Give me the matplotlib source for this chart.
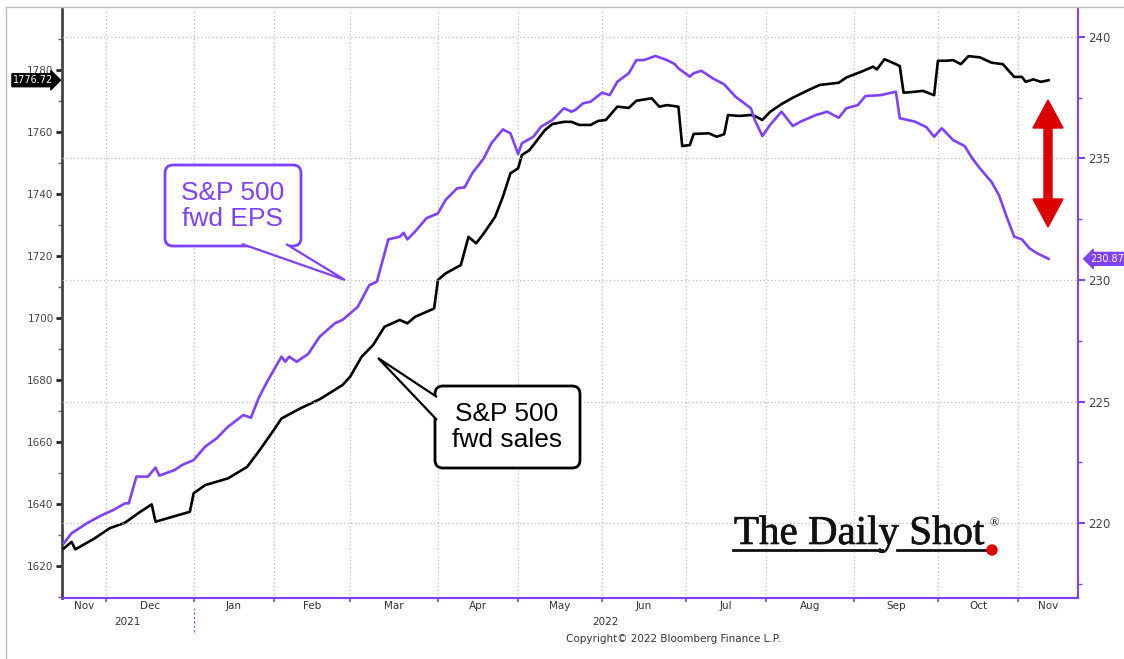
import numpy as np
import matplotlib.pyplot as plt
from matplotlib.patches import FancyBboxPatch, Polygon, Circle
from matplotlib.lines import Line2D
from matplotlib.ticker import MultipleLocator
import matplotlib.transforms as mtransforms
import matplotlib.patheffects as pe

# Data - x axis is trading days
start = "2021-11-16"

sales_dates = ["2021-11-16", "2021-11-18", "2021-11-19", "2021-11-26", "2021-12-02", "2021-12-08",
               "2021-12-14", "2021-12-17", "2021-12-20", "2021-12-27", "2021-12-31", "2022-01-03",
               "2022-01-06", "2022-01-14", "2022-01-21", "2022-01-26", "2022-02-01", "2022-02-03",
               "2022-02-10", "2022-02-17", "2022-02-25", "2022-03-01", "2022-03-04", "2022-03-09",
               "2022-03-14", "2022-03-18", "2022-03-22", "2022-03-24", "2022-03-29", "2022-03-31",
               "2022-04-01", "2022-04-05", "2022-04-11", "2022-04-13", "2022-04-15", "2022-04-19",
               "2022-04-22", "2022-04-26", "2022-04-28", "2022-05-02", "2022-05-03", "2022-05-05",
               "2022-05-09", "2022-05-11", "2022-05-13", "2022-05-18", "2022-05-20", "2022-05-24",
               "2022-05-27", "2022-05-31", "2022-06-02", "2022-06-07", "2022-06-10", "2022-06-14",
               "2022-06-20", "2022-06-22", "2022-06-24", "2022-06-29", "2022-06-30", "2022-07-04",
               "2022-07-05", "2022-07-11", "2022-07-13", "2022-07-15", "2022-07-18", "2022-07-21",
               "2022-07-26", "2022-07-27", "2022-07-29", "2022-08-02", "2022-08-05", "2022-08-10",
               "2022-08-16", "2022-08-19", "2022-08-26", "2022-08-30", "2022-09-05", "2022-09-08",
               "2022-09-09", "2022-09-13", "2022-09-16", "2022-09-19", "2022-09-20", "2022-09-23",
               "2022-09-27", "2022-09-30", "2022-10-03", "2022-10-05", "2022-10-07", "2022-10-11",
               "2022-10-13", "2022-10-18", "2022-10-21", "2022-10-26", "2022-10-31", "2022-11-02",
               "2022-11-03", "2022-11-07", "2022-11-09", "2022-11-11"]
sales_values = [1625.7, 1627.8, 1625.4, 1628.9, 1632.2, 1634.0,
                1637.5, 1639.9, 1634.3, 1636.1, 1637.5, 1643.5,
                1646.1, 1648.3, 1652.0, 1656.9, 1663.9, 1667.6,
                1670.9, 1673.8, 1678.4, 1681.1, 1687.5, 1691.3,
                1697.2, 1699.4, 1698.3, 1700.4, 1702.0, 1703.1,
                1712.3, 1714.4, 1717.1, 1726.2, 1724.1, 1727.3,
                1732.7, 1739.1, 1746.7, 1748.3, 1752.6, 1754.2,
                1757.4, 1760.6, 1762.6, 1763.3, 1763.3, 1762.3,
                1762.3, 1763.6, 1763.9, 1768.2, 1767.8, 1770.1,
                1770.9, 1768.2, 1768.7, 1768.2, 1755.5, 1755.8,
                1759.4, 1759.6, 1758.5, 1759.3, 1765.5, 1765.2,
                1765.5, 1765.2, 1763.9, 1766.5, 1769.0, 1771.1,
                1773.5, 1775.2, 1775.9, 1777.6, 1779.5, 1781.1,
                1780.2, 1783.5, 1781.9, 1781.3, 1772.7, 1773.0,
                1773.3, 1771.9, 1783.0, 1783.0, 1783.2, 1781.9,
                1784.5, 1784.1, 1782.4, 1781.9, 1777.8, 1777.8,
                1776.2, 1777.0, 1776.2, 1776.72]

eps_dates = ["2021-11-16", "2021-11-18", "2021-11-24", "2021-11-30", "2021-12-03", "2021-12-08",
             "2021-12-09", "2021-12-13", "2021-12-16", "2021-12-20", "2021-12-21", "2021-12-27",
             "2021-12-29", "2022-01-03", "2022-01-06", "2022-01-11", "2022-01-14", "2022-01-20",
             "2022-01-24", "2022-01-26", "2022-01-28", "2022-02-03", "2022-02-04", "2022-02-07",
             "2022-02-09", "2022-02-14", "2022-02-17", "2022-02-23", "2022-02-25", "2022-03-03",
             "2022-03-08", "2022-03-10", "2022-03-15", "2022-03-18", "2022-03-21", "2022-03-22",
             "2022-03-24", "2022-03-29", "2022-04-01", "2022-04-05", "2022-04-08", "2022-04-12",
             "2022-04-14", "2022-04-19", "2022-04-21", "2022-04-26", "2022-04-28", "2022-05-02",
             "2022-05-03", "2022-05-06", "2022-05-10", "2022-05-13", "2022-05-18", "2022-05-20",
             "2022-05-23", "2022-05-25", "2022-05-27", "2022-06-01", "2022-06-03", "2022-06-07",
             "2022-06-10", "2022-06-14", "2022-06-16", "2022-06-21", "2022-06-24", "2022-06-28",
             "2022-06-29", "2022-07-04", "2022-07-05", "2022-07-07", "2022-07-08", "2022-07-12",
             "2022-07-15", "2022-07-20", "2022-07-26", "2022-07-27", "2022-07-29", "2022-08-02",
             "2022-08-05", "2022-08-10", "2022-08-12", "2022-08-18", "2022-08-23", "2022-08-26",
             "2022-08-30", "2022-09-02", "2022-09-06", "2022-09-12", "2022-09-16", "2022-09-19",
             "2022-09-23", "2022-09-28", "2022-09-30", "2022-10-04", "2022-10-07", "2022-10-12",
             "2022-10-14", "2022-10-18", "2022-10-21", "2022-10-25", "2022-10-27", "2022-10-31",
             "2022-11-02", "2022-11-04", "2022-11-08", "2022-11-11"]
eps_values = [219.18, 219.59, 220.00, 220.34, 220.55, 220.82,
              220.82, 221.92, 221.92, 222.29, 221.96, 222.19,
              222.40, 222.60, 223.15, 223.49, 223.97, 224.45,
              224.34, 225.14, 225.75, 226.85, 226.64, 226.85,
              226.64, 226.96, 227.67, 228.22, 228.36, 228.90,
              229.79, 229.93, 231.67, 231.78, 231.94, 231.67,
              231.99, 232.54, 232.74, 233.29, 233.77, 233.81,
              234.39, 235.00, 235.62, 236.19, 236.03, 235.18,
              235.62, 235.89, 236.30, 236.58, 237.06, 236.92,
              236.99, 237.26, 237.33, 237.70, 237.60, 238.15,
              238.50, 239.04, 239.04, 239.21, 239.04, 238.88,
              238.70, 238.36, 238.50, 238.60, 238.50, 238.29,
              238.04, 237.53, 237.06, 236.58, 235.92, 236.37,
              236.92, 236.33, 236.51, 236.78, 236.92, 236.67,
              237.06, 237.19, 237.56, 237.60, 237.74, 236.65,
              236.51, 236.28, 235.89, 236.24, 235.75, 235.51,
              235.00, 234.59, 234.04, 233.49, 232.60, 231.78,
              231.67, 231.30, 231.10, 230.87]

month_starts = ["2021-12-01", "2022-01-01", "2022-02-01", "2022-03-01", "2022-04-01", "2022-05-01",
                "2022-06-01", "2022-07-01", "2022-08-01", "2022-09-01", "2022-10-01", "2022-11-01"]
month_names = ["Nov", "Dec", "Jan", "Feb", "Mar", "Apr", "May", "Jun", "Jul", "Aug", "Sep", "Oct", "Nov"]

purple = "#8040ff"
W, H = 1124, 659

def bd(dates):
    return np.busday_count(start, np.array(dates, dtype="datetime64[D]"), weekmask="1111100")

def px(x, y):
    # reference-image pixel -> inches from bottom-left
    return (x / 100, (H - y) / 100)

sales_x = bd(sales_dates)
eps_x = bd(eps_dates)
month_x = bd(month_starts)

fig = plt.figure(figsize=(W / 100, H / 100), dpi=100)
inch = fig.dpi_scale_trans
ax = fig.add_axes([62 / W, 1 - 598 / H, (1078 - 62) / W, (598 - 9) / H])
ax2 = ax.twinx()

xmin, xmax = -0.5, 265.7
ax.set_xlim(xmin, xmax)
ax.set_ylim(1609.7, 1799.7)
ax2.set_ylim(216.93, 241.14)

# grid
ax.set_xticks(month_x)
ax.set_xticklabels([])
ax.grid(axis="x", color="#bbbbbb", linestyle=(0, (1, 2)), linewidth=0.9)
ax2.set_yticks(np.arange(220, 241, 5))
ax2.yaxis.set_minor_locator(MultipleLocator(2.5))
ax2.grid(axis="y", color="#bbbbbb", linestyle=(0, (1, 2)), linewidth=0.9)

ax.plot(sales_x, sales_values, color="black", lw=1.9, zorder=3)
ax2.plot(eps_x, eps_values, color=purple, lw=1.9, zorder=3)

# spines
for a in (ax, ax2):
    a.spines["top"].set_visible(False)
ax.spines["left"].set_color("#444444")
ax.spines["left"].set_linewidth(2)
ax.spines["right"].set_visible(False)
ax2.spines["left"].set_visible(False)
ax.spines["bottom"].set_color(purple)
ax2.spines["bottom"].set_visible(False)
ax.spines["bottom"].set_linewidth(1.5)
ax2.spines["right"].set_color(purple)
ax2.spines["right"].set_linewidth(1.5)

# ticks
ax.set_yticks(np.arange(1620, 1781, 20))
ax.yaxis.set_minor_locator(MultipleLocator(10))
ax.tick_params(axis="y", which="major", direction="out", length=4, width=2, color="#222222",
               labelsize=7.5, labelcolor="#444444", pad=2)
ax.tick_params(axis="y", which="minor", direction="out", length=3, width=1, color="#666666")
ax2.tick_params(axis="y", which="major", direction="out", length=5, width=1.5, color=purple,
                labelsize=8.5, labelcolor="#444444", pad=2)
ax2.tick_params(axis="y", which="minor", direction="out", length=3, width=1, color=purple)
ax.tick_params(axis="x", which="major", direction="out", length=3, width=1.2, color=purple)

# month labels centred in each month span
edges = np.concatenate([[xmin], month_x, [xmax]])
centres = (edges[:-1] + edges[1:]) / 2
xtrans = mtransforms.blended_transform_factory(ax.transData, inch)
for c, name in zip(centres, month_names):
    ax.text(c, (H - 606) / 100, name, transform=xtrans, ha="center", va="center",
            fontsize=7.5, color="#333333")
ax.text((xmin + month_x[1]) / 2, (H - 622) / 100, "2021", transform=xtrans, ha="center",
        va="center", fontsize=7.5, color="#333333")
ax.text((month_x[1] + month_x[-1]) / 2, (H - 622) / 100, "2022", transform=xtrans, ha="center",
        va="center", fontsize=7.5, color="#333333")
fig.add_artist(Line2D([month_x[1], month_x[1]], [(H - 632) / 100, (H - 608) / 100],
                      transform=xtrans, color=purple, lw=0.8, linestyle=(0, (2, 2))))
fig.text(673 / W, 1 - 639 / H, "Copyright\u00a9 2022 Bloomberg Finance L.P.", ha="center",
         va="center", fontsize=7.5, color="#333333")

# last-value tags
ax.annotate(f"{sales_values[-1]:.2f}", xy=(0, sales_values[-1]), xycoords=("axes fraction", "data"),
            xytext=(-6, 0), textcoords="offset points", ha="right", va="center", color="white",
            fontsize=7, annotation_clip=False,
            bbox=dict(boxstyle="rarrow,pad=0.15", fc="black", ec="black"))
ax2.annotate(f"{eps_values[-1]:.2f}", xy=(1, eps_values[-1]), xycoords=("axes fraction", "data"),
             xytext=(9, 0), textcoords="offset points", ha="left", va="center", color="white",
             fontsize=7, annotation_clip=False,
             bbox=dict(boxstyle="larrow,pad=0.15", fc=purple, ec=purple))

# callout boxes
box1 = FancyBboxPatch(px(165, 246), 136 / 100, 81 / 100, boxstyle="round,pad=0,rounding_size=0.08",
                      transform=inch, fc="white", ec=purple, lw=2, zorder=5)
fig.add_artist(box1)
fig.add_artist(Polygon([px(242, 244), px(345, 280), px(286, 244)], closed=False, transform=inch,
                       fc="white", ec=purple, lw=1.6, zorder=6))
fig.text(*px(233, 206), "S&P 500\nfwd EPS", transform=inch, ha="center", va="center",
         fontsize=19, color=purple, family="Liberation Sans", linespacing=1.15, zorder=7)

box2 = FancyBboxPatch(px(435, 468), 145 / 100, 82 / 100, boxstyle="round,pad=0,rounding_size=0.08",
                      transform=inch, fc="white", ec="black", lw=2, zorder=5)
fig.add_artist(box2)
fig.add_artist(Polygon([px(437, 397), px(378, 358), px(437, 420)], closed=False, transform=inch,
                       fc="white", ec="black", lw=1.6, zorder=6))
fig.text(*px(507, 427), "S&P 500\nfwd sales", transform=inch, ha="center", va="center",
         fontsize=19, color="black", family="Liberation Sans", linespacing=1.15, zorder=7)

# red double arrow
arrow = [(1048, 100), (1063, 128), (1052, 128), (1052, 199), (1063, 199), (1048, 227),
         (1033, 199), (1044, 199), (1044, 128), (1033, 128)]
fig.add_artist(Polygon([px(*p) for p in arrow], transform=inch, fc="#dd0000", ec="#dd0000",
                       lw=1, zorder=6))

# logo
logo = fig.text(*px(734, 544), "The Daily Shot", transform=inch, ha="left", va="baseline",
                fontsize=29.5, family="Liberation Serif", color="#111111", zorder=7)
logo.set_path_effects([pe.withStroke(linewidth=0.45, foreground="#111111")])
fig.text(*px(989, 526), "\u00ae", transform=inch, ha="left", va="baseline",
         fontsize=9, family="Liberation Serif", color="#111111", zorder=7)
fig.add_artist(Line2D([733 / 100, 882 / 100], [(H - 550) / 100] * 2, transform=inch,
                      color="#111111", lw=2, zorder=7))
fig.add_artist(Line2D([897 / 100, 990 / 100], [(H - 550) / 100] * 2, transform=inch,
                      color="#111111", lw=2, zorder=7))
fig.add_artist(Circle(px(992, 550), 0.05, transform=inch, color="#e00000", zorder=8))

# outer frame
fig.add_artist(Line2D([6 / 100, 6 / 100], [0, (H - 7) / 100], transform=inch, color="#bbbbbb", lw=1))
fig.add_artist(Line2D([6 / 100, W / 100], [(H - 7) / 100] * 2, transform=inch, color="#bbbbbb", lw=1))

fig.savefig("out.png", dpi=100)
